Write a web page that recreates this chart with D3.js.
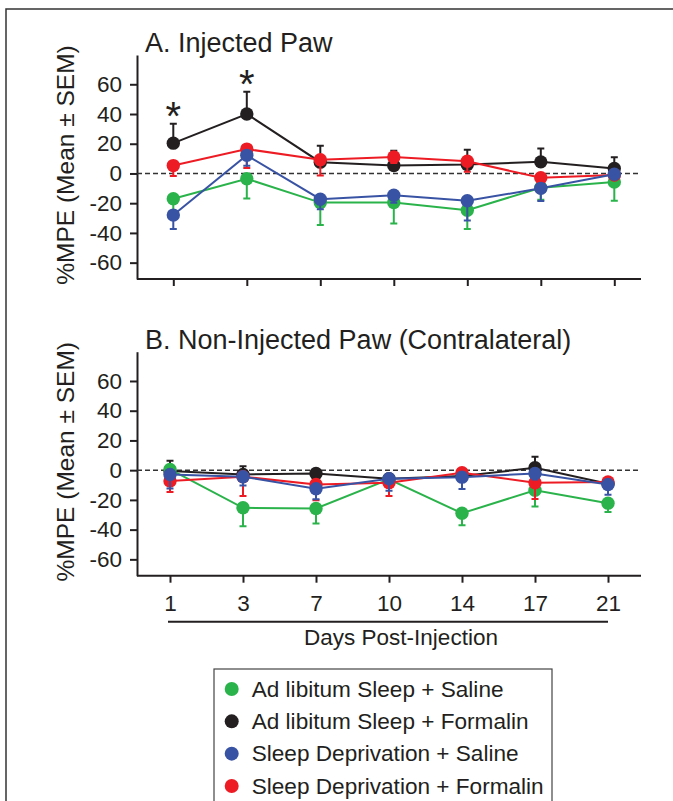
<!DOCTYPE html>
<meta charset="utf-8">
<title>%MPE by day</title>
<style>
  body { margin: 0; background: #fff; }
  text { font-family: "Liberation Sans", Arial, sans-serif; fill: #231f20; }
</style>
<div id="viz"></div>
<script src="https://cdnjs.cloudflare.com/ajax/libs/d3/7.8.5/d3.min.js"></script>
<script>

var days = ["1", "3", "7", "10", "14", "17", "21"];
var yTicks = [-60, -40, -20, 0, 20, 40, 60];
var groups = ["Ad libitum Sleep + Saline", "Ad libitum Sleep + Formalin",
              "Sleep Deprivation + Saline", "Sleep Deprivation + Formalin"];
var colors = ["#2bb34b", "#231f20", "#3953a4", "#ed1c24"];
// error bars go up for the formalin ad lib group, down for the rest
var errDir = [-1, 1, -1, -1];
// drawing order: black, green, red, blue
var drawOrder = [1, 0, 3, 2];

// A. Injected paw
var injAdSal = [-17, -3.6, -19.6, -19.6, -24.7, -9.6, -5.8];
var injAdSalSem = [10, 13.3, 15, 14, 12.6, 8, 12.6];
var injAdForm = [20.4, 40, 7.6, 5.3, 6, 7.8, 3.3];
var injAdFormSem = [13, 15, 11, 10, 10, 9, 7.6];
var injSdSal = [-28, 12.2, -17.3, -14.7, -18.4, -10, -0.5];
var injSdSalSem = [9.3, 7, 6.7, 5, 13.3, 8.5, 3];
var injSdForm = [5.3, 16.4, 9.3, 11.1, 8.2, -2.9, -1];
var injSdFormSem = [7, 12.7, 10.6, 4, 7, 3, 2];
var injStars = ["1", "3"];

// B. Non-injected paw
var conAdSal = [0.5, -25.3, -25.8, -6.2, -29, -13.5, -22.2];
var conAdSalSem = [6, 12.5, 10, 4, 8, 11, 6];
var conAdForm = [-0.6, -2.9, -2.2, -5.8, -4, 1.6, -9.1];
var conAdFormSem = [7, 5.6, 3, 3, 3, 7.4, 3];
var conSdSal = [-2.9, -4.4, -12.5, -5.8, -4.7, -2.2, -9.6];
var conSdSalSem = [9.4, 6, 7, 8, 8, 4, 7];
var conSdForm = [-7.3, -4.4, -9.6, -8.4, -1.7, -8.4, -8];
var conSdFormSem = [7.4, 13, 10.7, 9, 3, 11, 3];

var width = 673, height = 801;
var plotLeft = 137, plotRight = 641;

var svg = d3.select("#viz").append("svg")
    .attr("width", width)
    .attr("height", height);

// outer frame
svg.append("rect")
  .attr("x", 6).attr("y", 9)
  .attr("width", 720).attr("height", 850)
  .attr("fill", "none")
  .attr("stroke", "#333")
  .attr("stroke-width", 1.5);

function drawPanel(off, xRange, title, means, sems, stars, tickLabels) {
  var x = d3.scalePoint().domain(days).range(xRange);
  var y = d3.scaleLinear().domain([-71, 79.7]).range([279 + off, 55 + off]);
  var g = svg.append("g");

  g.append("text")
    .attr("x", 145).attr("y", 52 + off)
    .style("font-size", "27px")
    .text(title);

  g.append("text")
    .attr("transform", "translate(74," + (165 + off) + ") rotate(-90)")
    .attr("text-anchor", "middle")
    .style("font-size", "24.5px")
    .text("%MPE (Mean \u00b1 SEM)");

  var yAxis = g.append("g")
    .attr("transform", "translate(" + plotLeft + ",0)")
    .call(d3.axisLeft(y).tickValues(yTicks).tickFormat(function(d) { return String(d); })
      .tickSize(7).tickPadding(8).tickSizeOuter(0));
  yAxis.selectAll("text").style("font-size", "22.5px").attr("fill", "#231f20");

  var xAxis = g.append("g")
    .attr("transform", "translate(0," + y.range()[0] + ")")
    .call(d3.axisBottom(x).tickSize(7).tickPadding(12).tickSizeOuter(0));
  xAxis.select(".domain").remove();
  if (tickLabels) xAxis.selectAll("text").style("font-size", "22.5px").attr("fill", "#231f20");
  else xAxis.selectAll("text").remove();

  g.append("line")
    .attr("x1", plotLeft).attr("x2", plotRight)
    .attr("y1", y.range()[0]).attr("y2", y.range()[0])
    .attr("stroke", "#231f20").attr("stroke-width", 2);

  g.selectAll(".tick line, .domain").attr("stroke", "#231f20").attr("stroke-width", 2);

  g.append("line")
    .attr("x1", plotLeft).attr("x2", plotRight - 3)
    .attr("y1", y(0)).attr("y2", y(0))
    .attr("stroke", "#333").attr("stroke-width", 1.5)
    .attr("stroke-dasharray", "5,3");

  drawOrder.forEach(function(s) {
    var pts = days.map(function(d, i) {
      return {day: d, m: means[s][i], e: means[s][i] + errDir[s] * sems[s][i]};
    });
    var sg = g.append("g");
    sg.selectAll(".err").data(pts).enter().append("path")
      .attr("d", function(p) {
        var cx = x(p.day);
        return "M" + cx + "," + y(p.m) + "V" + y(p.e) + "M" + (cx - 3.5) + "," + y(p.e) + "H" + (cx + 3.5);
      })
      .attr("fill", "none").attr("stroke", colors[s]).attr("stroke-width", 2);
    sg.append("path")
      .datum(pts)
      .attr("d", d3.line().x(function(p) { return x(p.day); }).y(function(p) { return y(p.m); }))
      .attr("fill", "none").attr("stroke", colors[s]).attr("stroke-width", 2);
    sg.selectAll("circle").data(pts).enter().append("circle")
      .attr("cx", function(p) { return x(p.day); })
      .attr("cy", function(p) { return y(p.m); })
      .attr("r", 6.7)
      .attr("fill", colors[s]);
  });

  stars.forEach(function(d) {
    var i = days.indexOf(d);
    g.append("text")
      .attr("x", x(d)).attr("y", y(means[1][i] + sems[1][i]) + 6)
      .attr("text-anchor", "middle")
      .style("font-size", "40px")
      .text("*");
  });

  return x;
}

drawPanel(0, [173.3, 614.3], "A. Injected Paw",
  [injAdSal, injAdForm, injSdSal, injSdForm],
  [injAdSalSem, injAdFormSem, injSdSalSem, injSdFormSem], injStars, false);

var xB = drawPanel(296.7, [170, 608], "B. Non-Injected Paw (Contralateral)",
  [conAdSal, conAdForm, conSdSal, conSdForm],
  [conAdSalSem, conAdFormSem, conSdSalSem, conSdFormSem], [], true);

// underline and x axis title
svg.append("line")
  .attr("x1", xB(days[0]) - 2).attr("x2", xB(days[days.length - 1]))
  .attr("y1", 621.7).attr("y2", 621.7)
  .attr("stroke", "#231f20").attr("stroke-width", 2);
svg.append("text")
  .attr("x", 401).attr("y", 645)
  .attr("text-anchor", "middle")
  .style("font-size", "22.5px")
  .text("Days Post-Injection");

// legend
var legend = svg.append("g");
legend.append("rect")
  .attr("x", 214).attr("y", 669)
  .attr("width", 338).attr("height", 160)
  .attr("fill", "none").attr("stroke", "#444").attr("stroke-width", 1.2);
var rowY = d3.scalePoint().domain(groups).range([689, 786]);
groups.forEach(function(name, i) {
  legend.append("circle")
    .attr("cx", 231.7).attr("cy", rowY(name)).attr("r", 7)
    .attr("fill", colors[i]);
  legend.append("text")
    .attr("x", 251.7).attr("y", rowY(name) + 7.5)
    .style("font-size", "22.6px")
    .text(name);
});

</script>
